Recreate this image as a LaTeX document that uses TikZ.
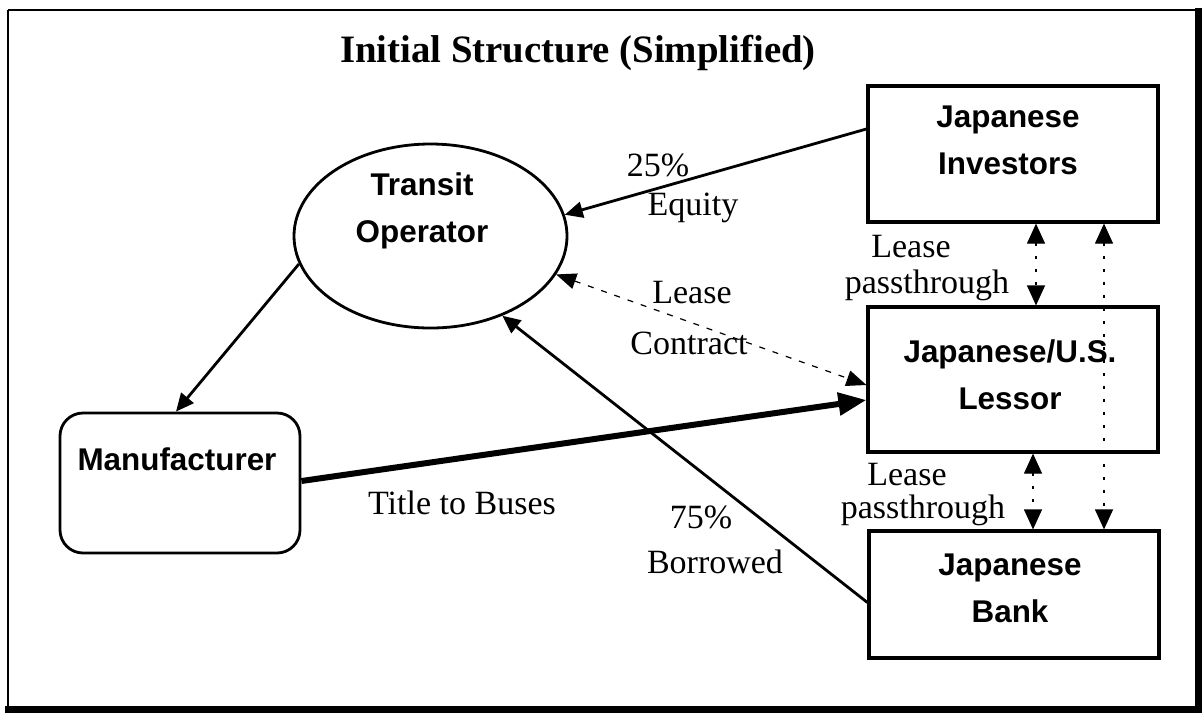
\documentclass[tikz,border=0pt]{standalone}
\usepackage{fontspec}
\setmainfont{Liberation Serif}
\newfontfamily\lsans{Liberation Sans}
\usetikzlibrary{arrows.meta,shapes.geometric,calc}
\begin{document}
\begin{tikzpicture}[x=0.5pt,y=-0.5pt,
  boxnode/.style={draw,line width=1.6pt,minimum width=145pt,inner sep=0pt},
  sanslab/.style={align=center,inner sep=0pt,font=\lsans\bfseries\fontsize{15.7}{23.5}\selectfont},
  seriflab/.style={inner sep=0pt,font=\fontsize{17}{20}\selectfont},
  solidarrow/.style={line width=1.4pt,-{Triangle[length=9pt,width=8pt]}},
  thickarrow/.style={line width=3pt,-{Triangle[length=14pt,width=11pt]}},
  dotarrow/.style={line width=0.6pt,dash pattern=on 1.5pt off 5pt,{Triangle[length=10pt,width=9pt]}-{Triangle[length=10pt,width=9pt]}},
  dasharrow/.style={line width=0.6pt,dash pattern=on 3pt off 4pt,{Triangle[length=10pt,width=8pt]}-{Triangle[length=10pt,width=8pt]}}]
\useasboundingbox (0,0) rectangle (1204,714);
% frame
\draw[line width=1pt] (7.5,10) -- (1198,10);
\draw[line width=1pt] (7.5,10) -- (7.5,708);
\draw[line width=3.2pt] (1198.5,8) -- (1198.5,709.5) -- (5,709.5);
% title
\node (title) at (578,53) {\fontsize{19.4}{23}\selectfont\bfseries Initial Structure (Simplified)};
% nodes
\node[draw,ellipse,line width=1.4pt,minimum width=136.5pt,minimum height=92pt,inner sep=0pt] (op) at (430.5,236) {};
\node[sanslab] (opt) at (422,211) {Transit\\Operator};
\node[draw,rounded corners=11.5pt,line width=1.4pt,minimum width=120pt,minimum height=70pt,inner sep=0pt] (man) at (180,483) {};
\node[sanslab] (mant) at (177,459) {Manufacturer};
\node[boxnode,minimum height=68pt] (inv) at (1013,154) {};
\node[sanslab] (invt) at (1008,140) {Japanese\\Investors};
\node[boxnode,minimum height=72.5pt] (les) at (1013,379.5) {};
\node[sanslab] (lest) at (1010,375) {Japanese/U.S.\\Lessor};
\node[boxnode,minimum height=63.5pt] (bank) at (1014,594.5) {};
\node[sanslab] (bankt) at (1010,588) {Japanese\\Bank};
% connectors
\draw[solidarrow] ($(inv.west)+(0,-25)$) -- (op.9);
\draw[solidarrow] (op.192) -- ($(man.north)+(-4,0)$);
\draw[solidarrow] ($(bank.west)+(0,8)$) -- (op.-48);
\draw[thickarrow] ($(man.east)+(0,-2)$) -- ($(les.west)+(0,20.5)$);
\draw[dasharrow] (op.-17) -- ($(les.west)+(0,5.5)$);
\draw[dotarrow] ($(inv.south)+(23,0)$) -- ($(les.north)+(23,0)$);
\draw[dotarrow] ($(les.south)+(20,0)$) -- ($(bank.north)+(19,0)$);
\draw[dotarrow] ($(inv.south)+(91,0)$) -- ($(bank.north)+(90,0)$);
% labels
\node[seriflab] (l25) at (658,165) {25\%};
\node[seriflab] (leq) at (693,208) {Equity};
\node[seriflab] (llease) at (692,293) {Lease};
\node[seriflab] (lcon) at (689,343) {Contract};
\node[seriflab] (lp1a) at (911,247) {Lease};
\node[seriflab] (lp1b) at (927,285) {passthrough};
\node[seriflab] (lp2a) at (907,475) {Lease};
\node[seriflab] (lp2b) at (923,510) {passthrough};
\node[seriflab] (l75) at (701,517) {75\%};
\node[seriflab] (lbor) at (715,562) {Borrowed};
\node[seriflab] (ltitle) at (462,503) {Title to Buses};
\end{tikzpicture}
\end{document}
